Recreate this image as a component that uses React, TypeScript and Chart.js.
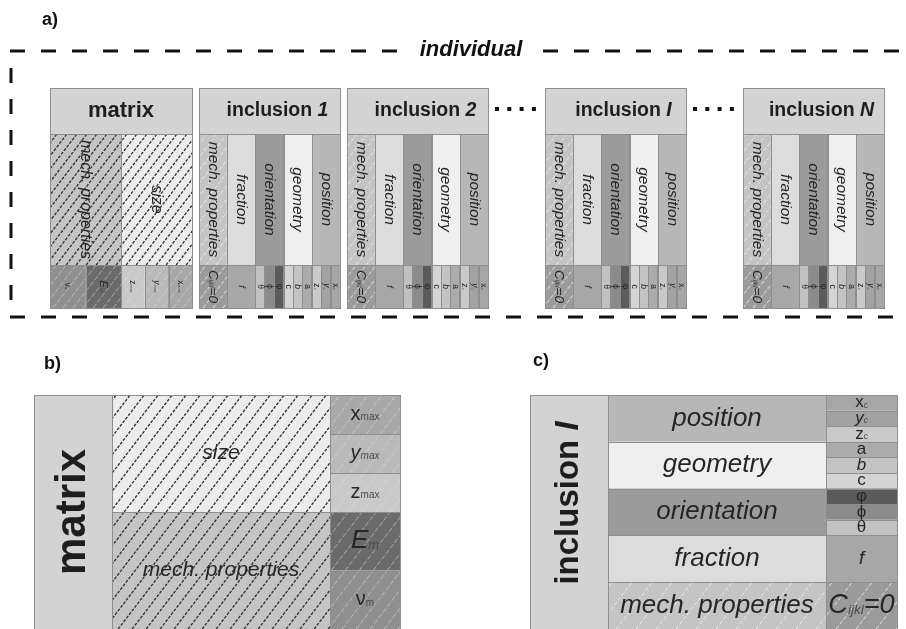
import { useEffect, useRef } from 'react';
import { Chart, registerables } from 'chart.js';
Chart.register(...registerables);

const W = 906;
const H = 629;

// ---------------- data ----------------
const panelLabels = ['a)', 'b)', 'c)'];
const frameLabel = 'individual';
const matrixTitle = 'matrix';
const matrixFields = ['size', 'mech. properties'];
const matrixParamMain = ['x', 'y', 'z', 'E', 'ν'];
const matrixParamSub = ['max', 'max', 'max', 'm', 'm'];
const matrixParamField = [0, 0, 0, 1, 1];
const inclusionTitle = 'inclusion ';
const inclusionIndex = ['1', '2', 'I', 'N'];
const detailIndex = 'I';
const inclusionFields = ['position', 'geometry', 'orientation', 'fraction', 'mech. properties'];
const inclusionParamMain = ['x', 'y', 'z', 'a', 'b', 'c', 'φ', 'ϕ', 'θ', 'f', 'C'];
const inclusionParamSub = ['c', 'c', 'c', '', '', '', '', '', '', '', 'ijkl'];
const inclusionParamTail = ['', '', '', '', '', '', '', '', '', '', '=0'];
const inclusionParamField = [0, 0, 0, 1, 1, 1, 2, 2, 2, 3, 4];
const ellipsisDots = [4, 4];

// ---------------- styles ----------------
const FONT = '"Liberation Sans", Arial, sans-serif';
const headerFill = '#d3d3d3';
const cellStroke = '#8e8e8e';
const textColor = '#262626';
const subColor = '#4a4a4a';
const matrixFieldFill = ['#ececec', '#c4c4c4'];
const matrixFieldHatch = ['dark', 'dark'];
const matrixParamFill = ['#a8a8a8', '#b9b9b9', '#c9c9c9', '#6b6b6b', '#8f8f8f'];
const matrixParamHatch = ['soft', 'soft', 'soft', 'soft', 'soft'];
const matrixParamScale = [1, 1, 1, 1.3, 1];
const matrixParamItalic = [false, true, false, true, false];
const inclusionFieldFill = ['#b7b7b7', '#efefef', '#9b9b9b', '#dcdcdc', '#c4c4c4'];
const inclusionFieldHatch = [null, null, null, null, 'light'];
const inclusionParamFill = ['#a6a6a6', '#a2a2a2', '#c9c9c9', '#ababab', '#c3c3c3', '#d4d4d4', '#5b5b5b', '#8b8b8b', '#c1c1c1', '#a7a7a7', '#9b9b9b'];
const inclusionParamHatch = [null, null, null, null, null, null, null, null, null, null, 'light'];
const inclusionParamScale = [1, 1, 1, 1, 1, 1, 1, 1, 1, 1.1, 1.6];
const inclusionParamItalic = [false, true, false, false, true, false, false, false, false, true, true];

const hatchStyles: Record<string, { color: string; width: number; dash: number[] }> = {
  dark: { color: '#2e2e2e', width: 1.3, dash: [3, 1.5] },
  soft: { color: 'rgba(225,225,225,0.55)', width: 1, dash: [5, 2] },
  light: { color: 'rgba(240,240,240,0.85)', width: 1, dash: [4, 2] },
};

type Run = { text: string; size: number; bold?: boolean; italic?: boolean; color?: string; dy?: number };
type Rect = { x0: number; y0: number; x1: number; y1: number };

function drawRuns(ctx: CanvasRenderingContext2D, runs: Run[], cx: number, cy: number, rot: number) {
  ctx.save();
  ctx.translate(cx, cy);
  ctx.rotate(rot);
  const f = (r: Run) => `${r.italic ? 'italic ' : ''}${r.bold ? 'bold ' : ''}${r.size}px ${FONT}`;
  let total = 0;
  const widths = runs.map((r) => {
    ctx.font = f(r);
    const w = ctx.measureText(r.text).width;
    total += w;
    return w;
  });
  let x = -total / 2;
  ctx.textBaseline = 'middle';
  ctx.textAlign = 'left';
  runs.forEach((r, i) => {
    ctx.font = f(r);
    ctx.fillStyle = r.color || textColor;
    ctx.fillText(r.text, x, r.dy || 0);
    x += widths[i];
  });
  ctx.restore();
}

function hatch(ctx: CanvasRenderingContext2D, r: Rect, key: string, spacing: number) {
  const st = hatchStyles[key];
  const slope = 1.3;
  ctx.save();
  ctx.beginPath();
  ctx.rect(r.x0, r.y0, r.x1 - r.x0, r.y1 - r.y0);
  ctx.clip();
  ctx.strokeStyle = st.color;
  ctx.lineWidth = st.width;
  ctx.setLineDash(st.dash);
  ctx.beginPath();
  const cMin = r.x0 + r.y0 / slope;
  const cMax = r.x1 + r.y1 / slope;
  for (let c = Math.floor(cMin / spacing) * spacing; c <= cMax + spacing; c += spacing) {
    ctx.moveTo(c - r.y1 / slope, r.y1);
    ctx.lineTo(c - r.y0 / slope, r.y0);
  }
  ctx.stroke();
  ctx.restore();
}

function cell(ctx: CanvasRenderingContext2D, r: Rect, fill: string) {
  ctx.fillStyle = fill;
  ctx.fillRect(r.x0, r.y0, r.x1 - r.x0, r.y1 - r.y0);
}
function frame(ctx: CanvasRenderingContext2D, r: Rect) {
  ctx.save();
  ctx.strokeStyle = cellStroke;
  ctx.lineWidth = 1;
  ctx.strokeRect(Math.round(r.x0) + 0.5, Math.round(r.y0) + 0.5, Math.round(r.x1 - r.x0), Math.round(r.y1 - r.y0));
  ctx.restore();
}

type Block = {
  title: Run[];
  fields: string[];
  fieldFill: string[];
  fieldHatch: (string | null)[];
  params: Run[][];
  paramField: number[];
  paramFill: string[];
  paramHatch: (string | null)[];
};
type Geo = {
  rotated: boolean;
  s0: number;
  s1: number;
  d: number[];
  fieldSize: number;
  hatchSpacing: number;
  lightSpacing: number;
  titleShift: number;
};

function drawBlock(ctx: CanvasRenderingContext2D, X: (v: number) => number, Y: (v: number) => number, b: Block, g: Geo) {
  const len = g.s1 - g.s0;
  const rect = (fa: number, fb: number, da: number, db: number): Rect => {
    if (!g.rotated) return { x0: X(da), x1: X(db), y0: Y(g.s0 + fa * len), y1: Y(g.s0 + fb * len) };
    return { x0: X(g.s1 - fb * len), x1: X(g.s1 - fa * len), y0: Y(da), y1: Y(db) };
  };
  const textRot = g.rotated ? Math.PI / 2 : 0;
  const n = b.fields.length;
  // header
  const hr = rect(0, 1, g.d[0], g.d[1]);
  cell(ctx, hr, headerFill);
  frame(ctx, hr);
  const cx = (hr.x0 + hr.x1) / 2 + (g.rotated ? g.titleShift : 0);
  const cy = (hr.y0 + hr.y1) / 2 + (g.rotated ? 0 : g.titleShift);
  drawRuns(ctx, b.title, cx, cy, g.rotated ? 0 : -Math.PI / 2);
  // fields
  b.fields.forEach((name, i) => {
    const r = rect(i / n, (i + 1) / n, g.d[1], g.d[2]);
    cell(ctx, r, b.fieldFill[i]);
    const hk = b.fieldHatch[i];
    if (hk) hatch(ctx, r, hk, hk === 'light' ? g.lightSpacing : g.hatchSpacing);
    frame(ctx, r);
    drawRuns(ctx, [{ text: name, size: g.fieldSize, italic: true }], (r.x0 + r.x1) / 2, (r.y0 + r.y1) / 2, textRot);
  });
  // params
  const counts = b.fields.map((_, i) => b.paramField.filter((f) => f === i).length);
  const seen = b.fields.map(() => 0);
  b.params.forEach((runs, j) => {
    const fi = b.paramField[j];
    const k = seen[fi]++;
    const c = counts[fi];
    const r = rect((fi + k / c) / n, (fi + (k + 1) / c) / n, g.d[2], g.d[3]);
    cell(ctx, r, b.paramFill[j]);
    const hk = b.paramHatch[j];
    if (hk) hatch(ctx, r, hk, hk === 'light' ? g.lightSpacing : g.hatchSpacing);
    frame(ctx, r);
    drawRuns(ctx, runs, (r.x0 + r.x1) / 2, (r.y0 + r.y1) / 2, textRot);
  });
  frame(ctx, rect(0, 1, g.d[0], g.d[3]));
}

function paramRuns(main: string[], sub: string[], tail: string[] | null, scale: number[], italic: boolean[], base: number): Run[][] {
  return main.map((m, i) => {
    const s = base * scale[i];
    const runs: Run[] = [{ text: m, size: s, italic: italic[i] }];
    if (sub[i]) runs.push({ text: sub[i], size: s * 0.5, color: subColor, dy: s * 0.16, italic: italic[i] });
    if (tail && tail[i]) runs.push({ text: tail[i], size: s, italic: true });
    return runs;
  });
}

function matrixBlock(titleSize: number, paramBase: number): Block {
  return {
    title: [{ text: matrixTitle, size: titleSize, bold: true, color: '#1e1e1e' }],
    fields: matrixFields,
    fieldFill: matrixFieldFill,
    fieldHatch: matrixFieldHatch,
    params: paramRuns(matrixParamMain, matrixParamSub, null, matrixParamScale, matrixParamItalic, paramBase),
    paramField: matrixParamField,
    paramFill: matrixParamFill,
    paramHatch: matrixParamHatch,
  };
}
function inclusionBlock(idx: string, titleSize: number, paramBase: number): Block {
  return {
    title: [
      { text: inclusionTitle, size: titleSize, bold: true, color: '#1e1e1e' },
      { text: idx, size: titleSize, bold: true, italic: true, color: '#1e1e1e' },
    ],
    fields: inclusionFields,
    fieldFill: inclusionFieldFill,
    fieldHatch: inclusionFieldHatch,
    params: paramRuns(inclusionParamMain, inclusionParamSub, inclusionParamTail, inclusionParamScale, inclusionParamItalic, paramBase),
    paramField: inclusionParamField,
    paramFill: inclusionParamFill,
    paramHatch: inclusionParamHatch,
  };
}

const diagramPlugin = {
  id: 'diagram',
  beforeDraw(chart: any) {
    const ctx = chart.ctx as CanvasRenderingContext2D;
    ctx.save();
    ctx.fillStyle = '#ffffff';
    ctx.fillRect(0, 0, chart.width, chart.height);
    ctx.restore();
  },
  afterDraw(chart: any) {
    const ctx = chart.ctx as CanvasRenderingContext2D;
    const X = (v: number) => chart.scales.x.getPixelForValue(v);
    const Y = (v: number) => chart.scales.y.getPixelForValue(v);

    // panel labels
    const labelPos = [
      [42, 20],
      [44, 364],
      [533, 361],
    ];
    panelLabels.forEach((t, i) => {
      ctx.save();
      ctx.font = `bold 18px ${FONT}`;
      ctx.fillStyle = '#111';
      ctx.textBaseline = 'middle';
      ctx.textAlign = 'left';
      ctx.fillText(t, X(labelPos[i][0]), Y(labelPos[i][1]));
      ctx.restore();
    });

    // dashed "individual" frame
    ctx.save();
    ctx.strokeStyle = '#141414';
    ctx.lineWidth = 3;
    ctx.setLineDash([15, 16]);
    ctx.beginPath();
    ctx.moveTo(X(10), Y(51));
    ctx.lineTo(X(405), Y(51));
    ctx.moveTo(X(543), Y(51));
    ctx.lineTo(X(906), Y(51));
    ctx.moveTo(X(10), Y(317));
    ctx.lineTo(X(906), Y(317));
    ctx.stroke();
    ctx.beginPath();
    ctx.moveTo(X(11), Y(68));
    ctx.lineTo(X(11), Y(304));
    ctx.stroke();
    ctx.restore();
    drawRuns(ctx, [{ text: frameLabel, size: 22, bold: true, italic: true, color: '#111' }], X(471), Y(50), 0);

    // a) row of blocks
    const dA = [88, 134, 265, 308];
    drawBlock(ctx, X, Y, matrixBlock(22, 8.5), { rotated: true, s0: 50, s1: 192, d: dA, fieldSize: 16, hatchSpacing: 10, lightSpacing: 10, titleShift: 0 });
    const starts = [199, 347, 545, 743];
    inclusionIndex.forEach((idx, i) => {
      drawBlock(ctx, X, Y, inclusionBlock(idx, 19.5, 8.5), { rotated: true, s0: starts[i], s1: starts[i] + 141, d: dA, fieldSize: 15.5, hatchSpacing: 10, lightSpacing: 10, titleShift: 8 });
    });
    // ellipsis dots
    const dotStart = [497, 695];
    ellipsisDots.forEach((count, gi) => {
      for (let k = 0; k < count; k++) {
        ctx.fillStyle = '#111';
        ctx.fillRect(X(dotStart[gi] + k * 12.3) - 2, Y(109) - 2, 4, 4);
      }
    });

    // b) matrix detail
    drawBlock(ctx, X, Y, matrixBlock(42, 20), { rotated: false, s0: 395, s1: 629, d: [34, 112, 330, 400], fieldSize: 21, hatchSpacing: 14, lightSpacing: 14, titleShift: 0 });
    // c) inclusion detail
    drawBlock(ctx, X, Y, inclusionBlock(detailIndex, 33, 17), { rotated: false, s0: 395, s1: 629, d: [530, 608, 826, 897], fieldSize: 26, hatchSpacing: 14, lightSpacing: 20, titleShift: -9 });
  },
};

export default function App() {
  const ref = useRef<HTMLCanvasElement>(null);
  useEffect(() => {
    const canvas = ref.current!;
    const chart = new Chart(canvas, {
      type: 'scatter',
      data: { datasets: [] },
      options: {
        responsive: false,
        animation: false,
        events: [],
        layout: { padding: 0 },
        plugins: { legend: { display: false }, tooltip: { enabled: false } },
        scales: {
          x: { type: 'linear', min: 0, max: W, display: false },
          y: { type: 'linear', min: 0, max: H, reverse: true, display: false },
        },
      },
      plugins: [diagramPlugin],
    } as any);
    return () => chart.destroy();
  }, []);
  return (
    <div style={{ position: 'fixed', left: 0, top: 0, width: W, height: H, background: '#fff' }}>
      <canvas ref={ref} width={W} height={H} style={{ width: W, height: H, display: 'block' }} />
    </div>
  );
}
